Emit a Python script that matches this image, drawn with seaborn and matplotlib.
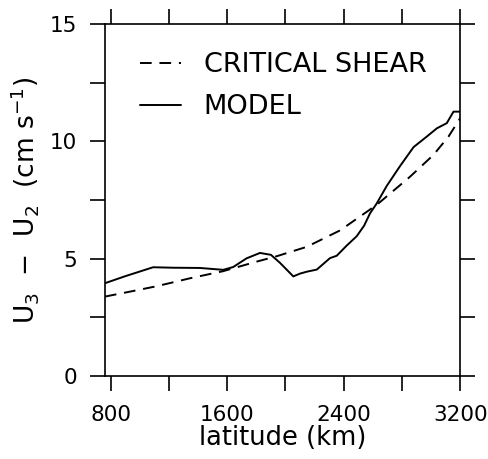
import matplotlib
matplotlib.use("Agg")
import matplotlib.pyplot as plt
import seaborn as sns
import pandas as pd
from matplotlib.ticker import MultipleLocator, FixedLocator

# Data
model_x = [760, 900, 1091, 1229, 1412, 1573, 1641, 1733, 1825, 1900, 1962, 2054,
           2100, 2146, 2215, 2306, 2352, 2420, 2489, 2540, 2581, 2627, 2696,
           2788, 2880, 2971, 3040, 3108, 3154, 3200]
model_y = [3.95, 4.25, 4.63, 4.61, 4.60, 4.52, 4.64, 5.01, 5.24, 5.16, 4.82, 4.24,
           4.36, 4.44, 4.53, 5.02, 5.12, 5.55, 5.95, 6.40, 6.93, 7.35, 8.10,
           8.95, 9.75, 10.20, 10.55, 10.77, 11.26, 11.26]

crit_x = [760, 931, 1114, 1344, 1570, 1802, 1940, 2146, 2375, 2627, 2856, 3017, 3120, 3200]
crit_y = [3.38, 3.59, 3.82, 4.16, 4.46, 4.87, 5.10, 5.50, 6.20, 7.29, 8.49, 9.42, 10.2, 10.98]

x_labels = [800, 1600, 2400, 3200]
y_labels = [0, 5, 10, 15]

df = pd.concat([
    pd.DataFrame({"x": crit_x, "y": crit_y, "series": "CRITICAL SHEAR"}),
    pd.DataFrame({"x": model_x, "y": model_y, "series": "MODEL"}),
])

sns.set_theme(style="white")
plt.rcParams["font.family"] = ["DejaVu Sans"]
plt.rcParams["text.color"] = "black"

fig = plt.figure(figsize=(4.88, 4.59), dpi=100)
ax = fig.add_axes([0.215, 0.181, 0.728, 0.767])

sns.lineplot(data=df, x="x", y="y", style="series",
             style_order=["CRITICAL SHEAR", "MODEL"],
             dashes={"CRITICAL SHEAR": (6, 4), "MODEL": ""},
             color="black", linewidth=1.4, sort=False, estimator=None, ax=ax)

ax.set_xlim(760, 3200)
ax.set_ylim(0, 15)
ax.xaxis.set_major_locator(FixedLocator(x_labels))
ax.xaxis.set_minor_locator(FixedLocator([1200, 2000, 2800]))
ax.yaxis.set_major_locator(FixedLocator(y_labels))
ax.yaxis.set_minor_locator(MultipleLocator(2.5))
ax.tick_params(which="both", direction="out", length=11, width=1.2, color="black",
               top=True, right=True, bottom=True, left=True)
ax.tick_params(which="major", labelsize=15.5, labelcolor="black")
ax.tick_params(axis="x", which="major", pad=10)
ax.tick_params(axis="y", which="major", pad=9)

for s in ax.spines.values():
    s.set_color("black")
    s.set_linewidth(1.2)

ax.set_xlabel("latitude (km)", fontsize=18.5, color="black", labelpad=0)
ax.set_ylabel(r"U$_3$  $-$  U$_2$  (cm s$^{-1}$)", fontsize=19, color="black", labelpad=6)

leg = ax.legend(loc="upper left", frameon=False, fontsize=19.5, handlelength=1.5,
                handletextpad=0.85, labelspacing=0.6, borderpad=0, borderaxespad=0,
                bbox_to_anchor=(0.099, 0.92))
for line in leg.get_lines():
    line.set_linewidth(1.4)
for t in leg.get_texts():
    t.set_color("black")

fig.savefig("out.png", dpi=100)
